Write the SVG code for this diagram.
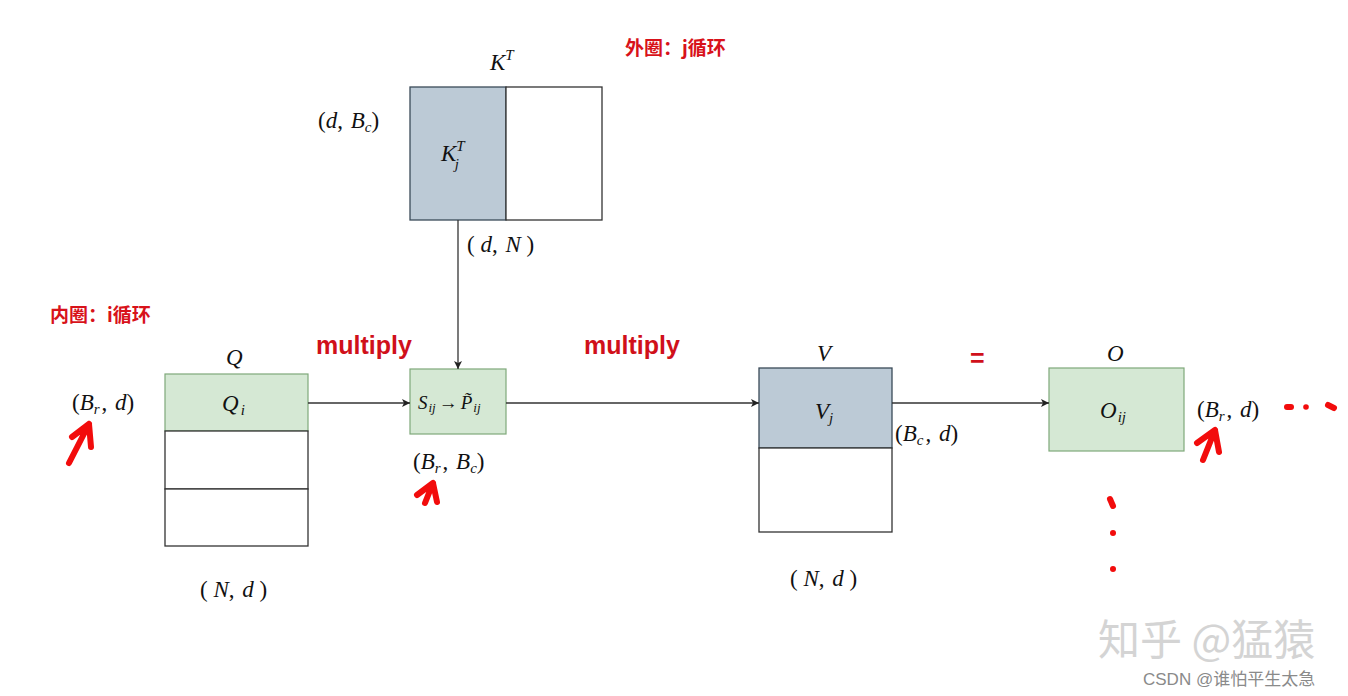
<svg xmlns="http://www.w3.org/2000/svg" width="1348" height="696" viewBox="0 0 1348 696">
<defs>
<style>
.m{font-family:"Liberation Serif","DejaVu Serif",serif;font-size:23px;fill:#111;}
.i{font-style:italic;}
.s{font-size:15px;font-style:italic;}
.cn{font-family:"Noto Sans CJK SC","Noto Sans",sans-serif;font-weight:bold;fill:#d8121a;font-size:19px;}
.mul{font-family:"Liberation Sans","Noto Sans",sans-serif;font-weight:bold;fill:#d0101a;font-size:25px;}
.green{fill:#d5e8d4;stroke:#7fa87a;stroke-width:1.2;}
.blue{fill:#bccad6;stroke:#3a4a58;stroke-width:1.3;}
.plain{fill:#fff;stroke:#333;stroke-width:1.3;}
.conn{stroke:#333;stroke-width:1.3;fill:none;marker-end:url(#ah);}
.red{stroke:#f20c0c;stroke-width:6;stroke-linecap:round;stroke-linejoin:round;fill:none;}
</style>
<marker id="ah" viewBox="0 0 10 10" refX="10" refY="5" markerWidth="8" markerHeight="8" markerUnits="userSpaceOnUse" orient="auto">
<path d="M0,0 L10,5 L0,10 L2.5,5 Z" fill="#222"/>
</marker>
</defs>
<rect width="1348" height="696" fill="#fff"/>

<g id="labels-red">
<text class="cn" x="625" y="55">外圈：j循环</text>
<text class="cn" x="50" y="322">内圈：i循环</text>
<text class="mul" x="316" y="354">multiply</text>
<text class="mul" x="584" y="354">multiply</text>
<text class="mul" x="970" y="367">=</text>
</g>

<g id="node-KT">
<rect class="blue" x="410" y="87" width="96" height="133"/>
<rect class="plain" x="506" y="87" width="96" height="133"/>
<text class="m" x="490" y="70"><tspan class="i">K</tspan><tspan class="s" dy="-10">T</tspan></text>
<text class="m" x="441" y="161"><tspan class="i">K</tspan><tspan class="s" dy="-10">T</tspan><tspan class="s" dx="-10" dy="18">j</tspan></text>
<text class="m" x="318" y="128">(<tspan class="i">d</tspan>, <tspan class="i" dx="2">B</tspan><tspan class="s" dy="4">c</tspan><tspan dy="-4">)</tspan></text>
<text class="m" x="467" y="252">( <tspan class="i">d</tspan>, <tspan class="i" dx="2">N</tspan> )</text>
</g>

<g id="node-Q">
<rect class="green" x="165" y="374" width="143" height="57"/>
<rect class="plain" x="165" y="431" width="143" height="58"/>
<rect class="plain" x="165" y="489" width="143" height="57"/>
<text class="m i" x="226" y="365">Q</text>
<text class="m" x="222" y="411"><tspan class="i">Q</tspan><tspan class="s" dy="4" dx="2">i</tspan></text>
<text class="m" x="72" y="410">(<tspan class="i">B</tspan><tspan class="s" dy="4">r</tspan><tspan dy="-4" dx="2">, </tspan><tspan class="i" dx="2">d</tspan>)</text>
<text class="m" x="200" y="597">( <tspan class="i">N</tspan>, <tspan class="i" dx="2">d</tspan> )</text>
</g>

<g id="node-S">
<rect class="green" x="410" y="369" width="96" height="65"/>
<text class="m" x="418" y="409" style="font-size:19px"><tspan class="i">S</tspan><tspan class="i" style="font-size:13px" dx="1" dy="3">ij</tspan><tspan dy="-3" dx="3">→</tspan><tspan class="i" dx="3">P&#x303;</tspan><tspan class="i" style="font-size:13px" dx="1" dy="3">ij</tspan></text>
<text class="m" x="413" y="469">(<tspan class="i">B</tspan><tspan class="s" dy="4">r</tspan><tspan dy="-4" dx="2">, </tspan><tspan class="i" dx="2">B</tspan><tspan class="s" dy="4">c</tspan><tspan dy="-4">)</tspan></text>
</g>

<g id="node-V">
<rect class="blue" x="759" y="368" width="133" height="80"/>
<rect class="plain" x="759" y="448" width="133" height="84"/>
<text class="m i" x="817" y="361">V</text>
<text class="m" x="815" y="419"><tspan class="i">V</tspan><tspan class="s" dy="4">j</tspan></text>
<text class="m" x="895" y="441">(<tspan class="i">B</tspan><tspan class="s" dy="4">c</tspan><tspan dy="-4" dx="2">, </tspan><tspan class="i" dx="2">d</tspan>)</text>
<text class="m" x="790" y="586">( <tspan class="i">N</tspan>, <tspan class="i" dx="2">d</tspan> )</text>
</g>

<g id="node-O">
<rect class="green" x="1049" y="368" width="135" height="83"/>
<text class="m i" x="1107" y="361">O</text>
<text class="m" x="1100" y="418"><tspan class="i">O</tspan><tspan class="s" dy="4" dx="1">ij</tspan></text>
<text class="m" x="1197" y="417">(<tspan class="i">B</tspan><tspan class="s" dy="4">r</tspan><tspan dy="-4" dx="2">, </tspan><tspan class="i" dx="2">d</tspan>)</text>
</g>

<g id="connectors">
<path class="conn" d="M458,220 L458,369"/>
<path class="conn" d="M308,403 L410,403"/>
<path class="conn" d="M506,403 L759,403"/>
<path class="conn" d="M892,403 L1049,403"/>
</g>

<g id="annotations">
<path class="red" d="M69,463 L89,424 M72,437 L89,424 L91,447"/>
<path class="red" d="M425,503 L433,483 M417,495 L433,483 L437,502"/>
<path class="red" d="M1203,460 L1215,430 M1197,443 L1215,430 L1219,452"/>
<path class="red" d="M1287,407 L1291,407"/>
<circle cx="1306" cy="407" r="2.8" fill="#f20c0c"/>
<path class="red" d="M1328,405 L1334,408"/>
<path class="red" d="M1110,499 L1113,506"/>
<circle cx="1113" cy="533" r="3" fill="#f20c0c"/>
<circle cx="1113" cy="569" r="3" fill="#f20c0c"/>
</g>

<g id="watermark">
<text x="1098" y="655" style="font-family:'Noto Sans CJK SC',sans-serif;font-size:42px;fill:#d4d4d4;">知乎 @猛猿</text>
<text x="1143" y="685" style="font-family:'Liberation Sans','Noto Sans CJK SC',sans-serif;font-size:17px;fill:#8a8a8a;">CSDN @谁怕平生太急</text>
</g>
</svg>
